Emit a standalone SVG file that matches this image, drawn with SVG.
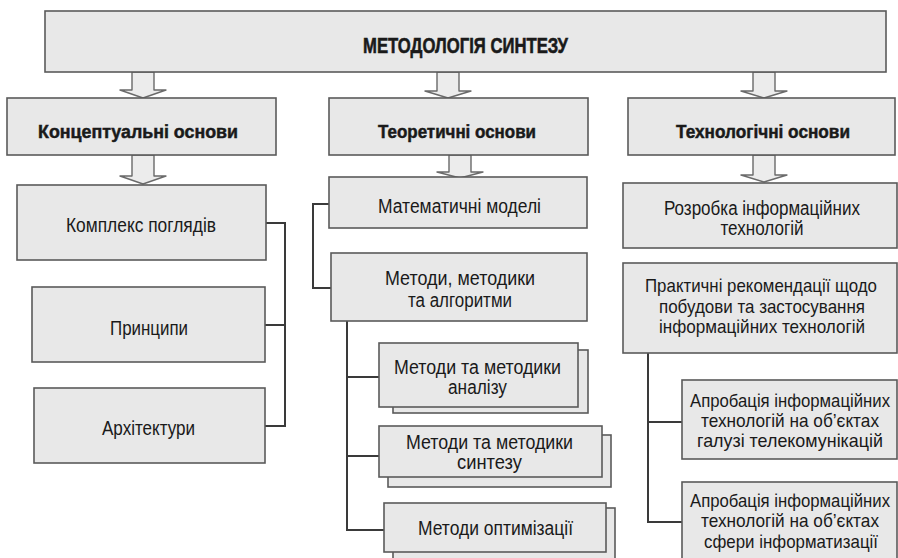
<svg xmlns="http://www.w3.org/2000/svg" width="898" height="558" viewBox="0 0 898 558">
<style>
.box{fill:#e8e8e8;stroke:#5a5a5a;stroke-width:1.6}
.arr{fill:#ececec;stroke:#6a6a6a;stroke-width:1.4;stroke-linejoin:round}
.con{fill:none;stroke:#3a3a3a;stroke-width:2}
text{font-family:"Liberation Sans",Arial,sans-serif;fill:#1a1a1a;text-anchor:middle}
.t{font-size:19.5px}
.r{font-size:18.5px}
.s{font-size:17.5px}
.b{font-size:18.5px;font-weight:bold;stroke:#1a1a1a;stroke-width:0.5}
.h{font-size:22px;font-weight:bold;stroke:#1a1a1a;stroke-width:0.6}
</style>
<rect width="898" height="558" fill="#ffffff"/>
<g id="arrows">
<polygon class="arr" points="132,72 132,90 120,90 143,98 166,90 154,90 154,72"/>
<polygon class="arr" points="437,72 437,91 425,91 448,98 471,91 459,91 459,72"/>
<polygon class="arr" points="753,72 753,91 741,91 764,98 787,91 775,91 775,72"/>
<polygon class="arr" points="132,155 132,176 120,176 143,184 166,176 154,176 154,155"/>
<polygon class="arr" points="449,155 449,172 437,172 460,178 483,172 471,172 471,155"/>
<polygon class="arr" points="753,155 753,175 741,175 764,182 787,175 775,175 775,155"/>
</g>
<g id="connectors">
<path class="con" d="M266,223 H285 V426 H265 M265,325 H285"/>
<path class="con" d="M329,204 H313 V288 H331"/>
<path class="con" d="M347,321 V530 H384 M347,377 H379 M347,456 H379"/>
<path class="con" d="M648,353 V522 H682 M648,422 H682"/>
</g>
<g id="n-top">
<rect class="box" x="45" y="11" width="841" height="61"/>
<text class="h" x="465.5" y="53" textLength="205" lengthAdjust="spacingAndGlyphs">МЕТОДОЛОГІЯ СИНТЕЗУ</text>
</g>
<g id="n-concept">
<rect class="box" x="7" y="98" width="269" height="57"/>
<text class="b" x="138" y="138" textLength="200" lengthAdjust="spacingAndGlyphs">Концептуальні основи</text>
</g>
<g id="n-theory">
<rect class="box" x="329" y="98" width="259" height="57"/>
<text class="b" x="457" y="138" textLength="158" lengthAdjust="spacingAndGlyphs">Теоретичні основи</text>
</g>
<g id="n-tech">
<rect class="box" x="628" y="98" width="267" height="57"/>
<text class="b" x="763" y="138" textLength="174" lengthAdjust="spacingAndGlyphs">Технологічні основи</text>
</g>
<g id="n-kompleks">
<rect class="box" x="17" y="185" width="249" height="75"/>
<text class="t" x="141" y="232" textLength="150" lengthAdjust="spacingAndGlyphs">Комплекс поглядів</text>
</g>
<g id="n-pryntsypy">
<rect class="box" x="32" y="287" width="233" height="75"/>
<text class="t" x="149" y="335" textLength="78" lengthAdjust="spacingAndGlyphs">Принципи</text>
</g>
<g id="n-arkh">
<rect class="box" x="34" y="388" width="231" height="75"/>
<text class="t" x="148.5" y="435" textLength="93" lengthAdjust="spacingAndGlyphs">Архітектури</text>
</g>
<g id="n-matem">
<rect class="box" x="329" y="177" width="258" height="51"/>
<text class="t" x="459.5" y="213" textLength="163" lengthAdjust="spacingAndGlyphs">Математичні моделі</text>
</g>
<g id="n-metody">
<rect class="box" x="331" y="253" width="256" height="68"/>
<text class="t" x="460" y="285" textLength="150" lengthAdjust="spacingAndGlyphs">Методи, методики</text>
<text class="t" x="460" y="307" textLength="104" lengthAdjust="spacingAndGlyphs">та алгоритми</text>
</g>
<g id="n-analiz">
<rect class="box" x="393" y="350" width="195" height="63"/>
<rect class="box" x="379" y="343" width="199" height="64"/>
<text class="t" x="477.5" y="374" textLength="167" lengthAdjust="spacingAndGlyphs">Методи та методики</text>
<text class="t" x="477.5" y="394" textLength="59" lengthAdjust="spacingAndGlyphs">аналізу</text>
</g>
<g id="n-syntez">
<rect class="box" x="388" y="435" width="223" height="52"/>
<rect class="box" x="379" y="426" width="223" height="51"/>
<text class="t" x="489.5" y="449" textLength="167" lengthAdjust="spacingAndGlyphs">Методи та методики</text>
<text class="t" x="489.5" y="469" textLength="65" lengthAdjust="spacingAndGlyphs">синтезу</text>
</g>
<g id="n-optym">
<rect class="box" x="393" y="508" width="222" height="56"/>
<rect class="box" x="384" y="503" width="222" height="49"/>
<text class="t" x="495.5" y="535" textLength="155" lengthAdjust="spacingAndGlyphs">Методи оптимізації</text>
</g>
<g id="n-rozrobka">
<rect class="box" x="623" y="183" width="274" height="65"/>
<text class="t" x="762" y="215" textLength="196" lengthAdjust="spacingAndGlyphs">Розробка інформаційних</text>
<text class="t" x="762" y="235" textLength="83" lengthAdjust="spacingAndGlyphs">технологій</text>
</g>
<g id="n-praktychni">
<rect class="box" x="623" y="263" width="274" height="90"/>
<text class="r" x="761" y="292" textLength="232" lengthAdjust="spacingAndGlyphs">Практичні рекомендації щодо</text>
<text class="r" x="762" y="313" textLength="206" lengthAdjust="spacingAndGlyphs">побудови та застосування</text>
<text class="r" x="762" y="333" textLength="206" lengthAdjust="spacingAndGlyphs">інформаційних технологій</text>
</g>
<g id="n-aprob1">
<rect class="box" x="682" y="380" width="215" height="79"/>
<text class="s" x="790" y="407" textLength="200" lengthAdjust="spacingAndGlyphs">Апробація інформаційних</text>
<text class="r" x="790" y="427" textLength="178" lengthAdjust="spacingAndGlyphs">технологій на об’єктах</text>
<text class="r" x="790" y="447" textLength="186" lengthAdjust="spacingAndGlyphs">галузі телекомунікацій</text>
</g>
<g id="n-aprob2">
<rect class="box" x="682" y="482" width="215" height="83"/>
<text class="s" x="790" y="507" textLength="200" lengthAdjust="spacingAndGlyphs">Апробація інформаційних</text>
<text class="r" x="790" y="527" textLength="178" lengthAdjust="spacingAndGlyphs">технологій на об’єктах</text>
<text class="r" x="791" y="548" textLength="174" lengthAdjust="spacingAndGlyphs">сфери інформатизації</text>
</g>
</svg>
